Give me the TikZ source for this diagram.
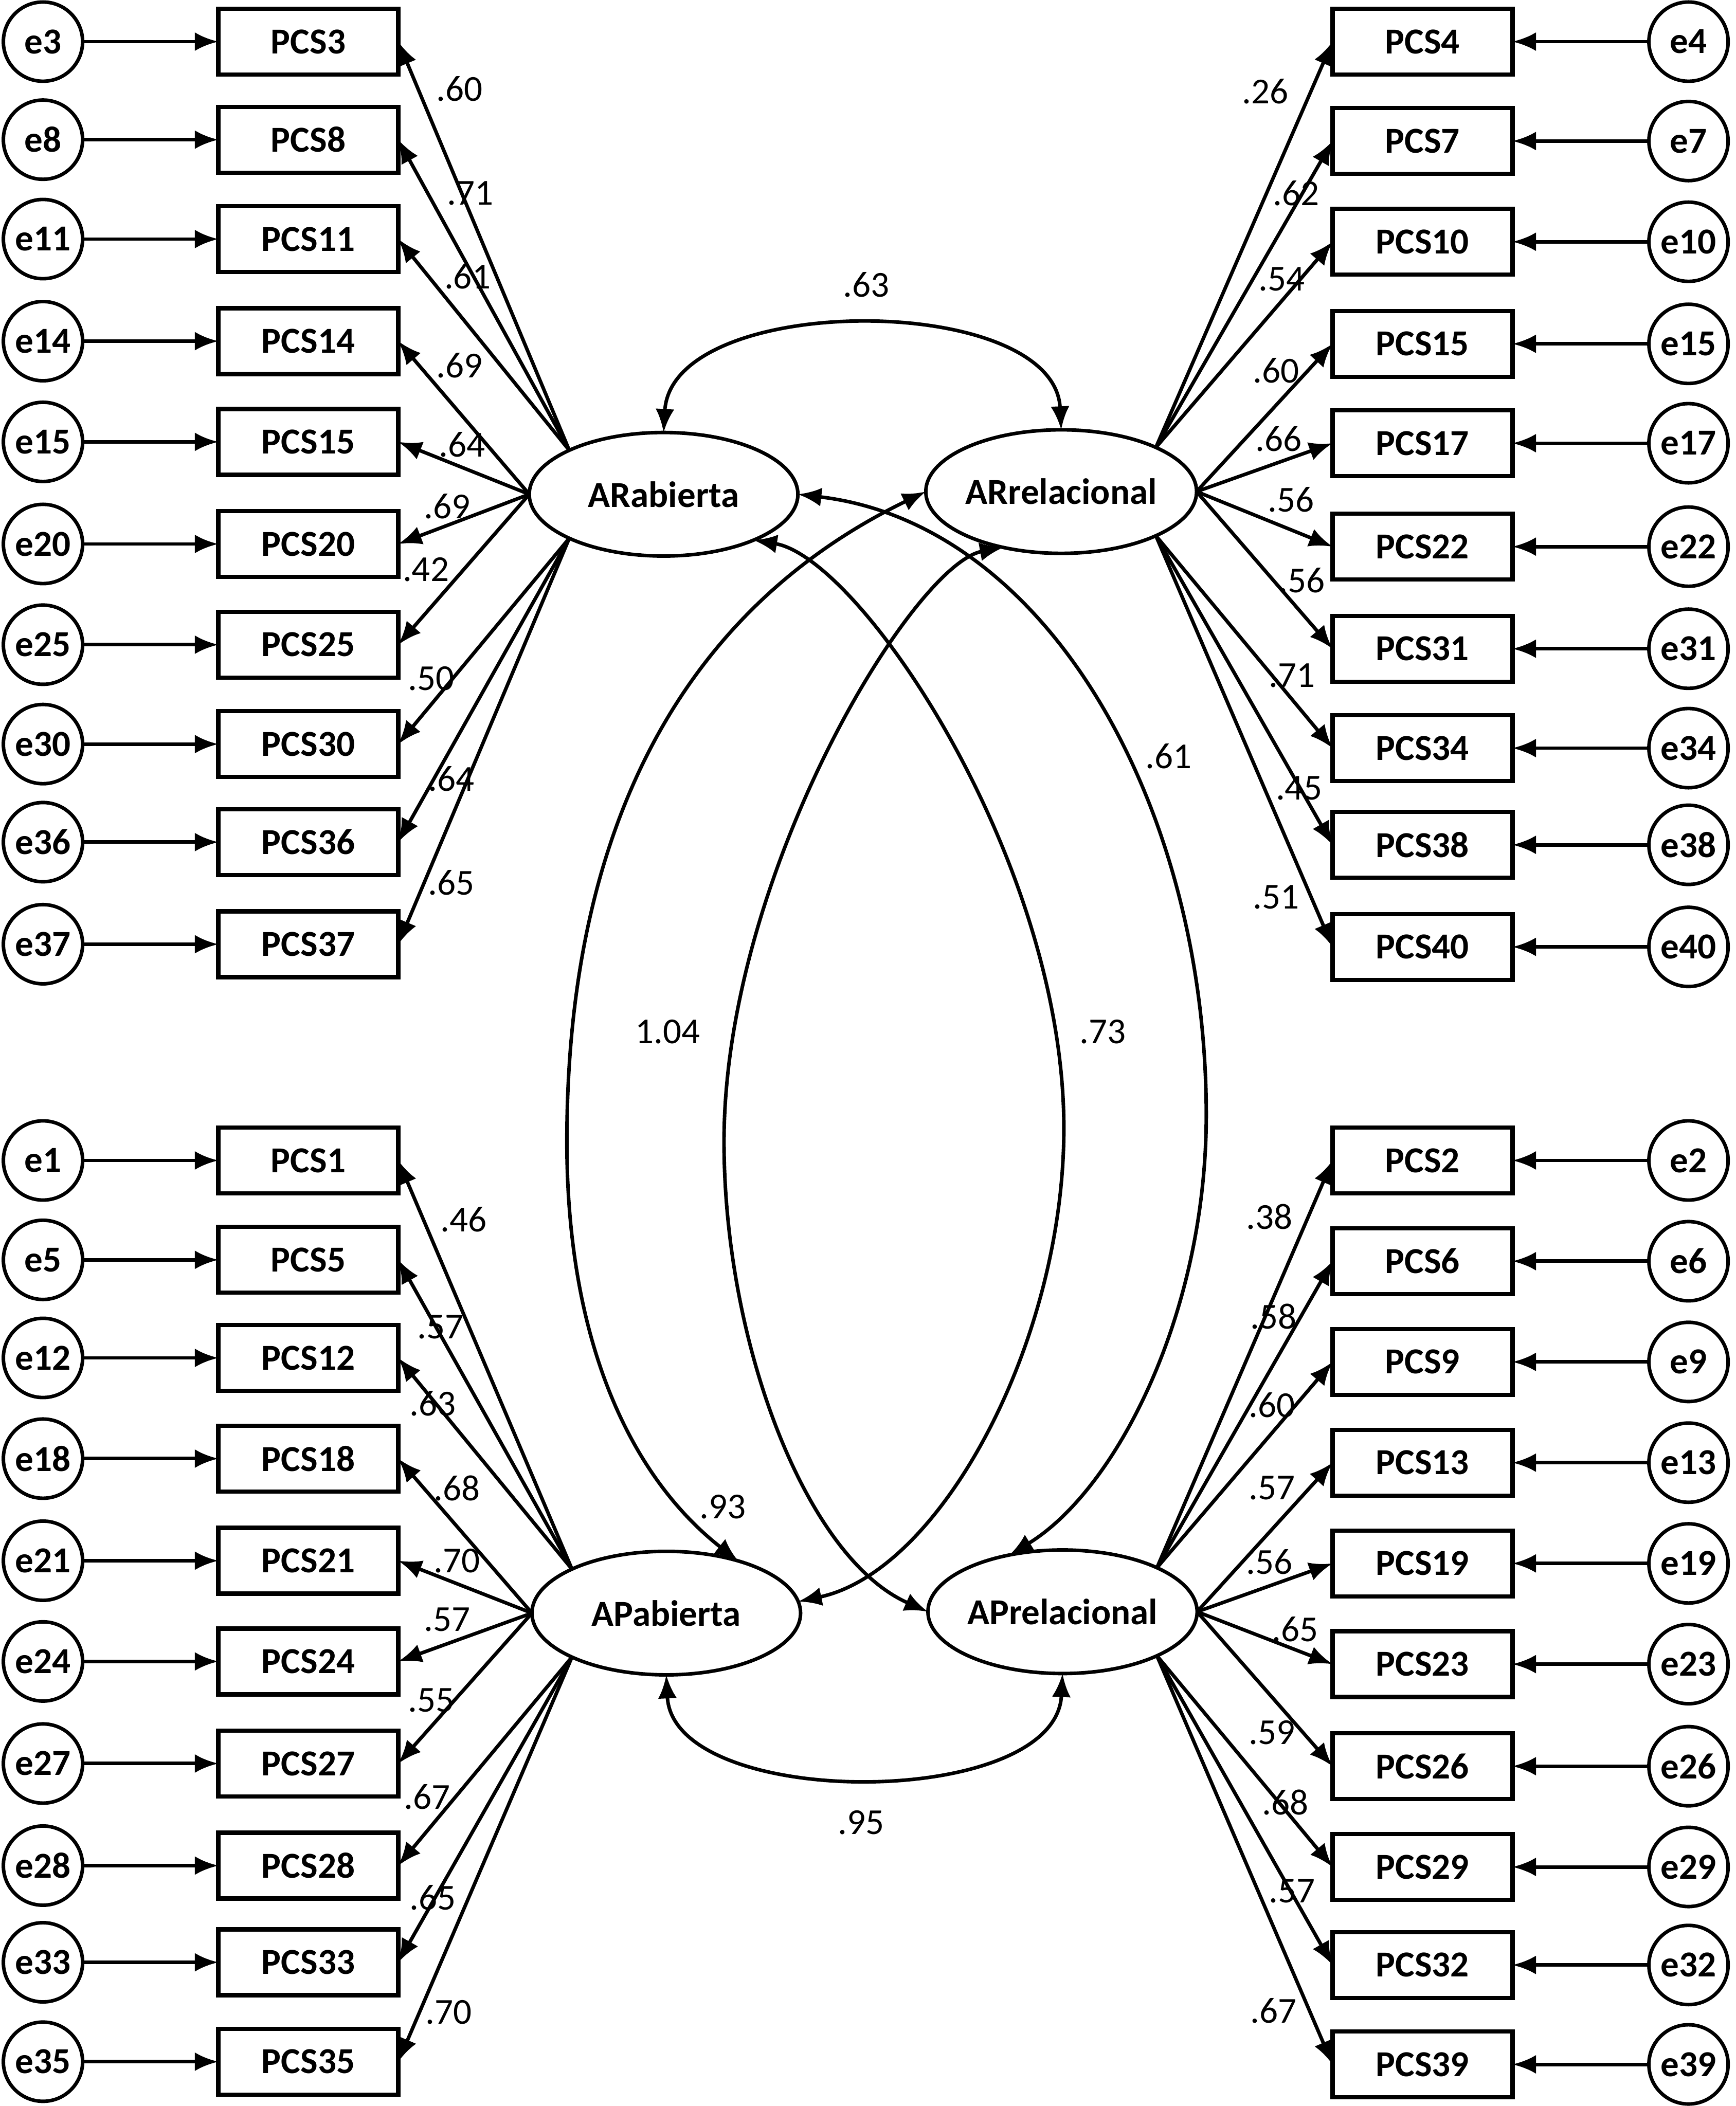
\documentclass[tikz,border=0pt]{standalone}
\usepackage{fontspec}
\setmainfont{Carlito}
\usetikzlibrary{shapes.geometric,arrows.meta}
\begin{document}
\begin{tikzpicture}[x=0.02cm,y=-0.02cm,
  txt/.style={font=\fontsize{15.5}{18}\selectfont},
  btxt/.style={font=\fontsize{15.5}{18}\selectfont\bfseries},
  obs/.style={draw,line width=1.8pt,minimum width=2.68cm,minimum height=0.98cm,inner sep=0pt,outer sep=0pt,btxt},
  err/.style={draw,circle,line width=1.5pt,minimum size=1.18cm,inner sep=0pt,outer sep=0pt,btxt},
  lat/.style={draw,ellipse,line width=1.5pt,minimum width=4cm,minimum height=1.84cm,inner sep=0pt,outer sep=0pt,btxt},
  lab/.style={inner sep=0pt,txt},
  tip/.tip={Latex[length=0.35cm,width=0.28cm]},
  pth/.style={line width=1.5pt,-tip},
  cov/.style={line width=1.5pt,tip-tip}
]
\useasboundingbox (0,0) rectangle (1292,1568);

% latent variables
\node[lat] (ARa) at (494,368) {ARabierta};
\node[lat] (ARr) at (790,366) {ARrelacional};
\node[lat] (APa) at (496,1201) {APabierta};
\node[lat] (APr) at (791,1200) {APrelacional};

% top-left block
\foreach \i/\n/\y/\ang in {1/3/31/155,2/8/104/155,3/11/178/155,4/14/254/180,5/15/329/180,6/20/405/180,7/25/480/180,8/30/554/205,9/36/627/205,10/37/703/205}{
  \node[obs] (TL\i) at (229.5,\y) {PCS\n};
  \node[err] (eTL\i) at (32,\y) {e\n};
  \draw[pth] (eTL\i) -- (TL\i);
  \draw[pth] (ARa.\ang) -- (TL\i.east);
}
% top-right block
\foreach \i/\n/\y/\ang in {1/4/31/25,2/7/105/25,3/10/180/25,4/15/256/0,5/17/330/0,6/22/407/0,7/31/483/0,8/34/557/-25,9/38/629/-25,10/40/705/-25}{
  \node[obs] (TR\i) at (1059,\y) {PCS\n};
  \node[err] (eTR\i) at (1257,\y) {e\n};
  \draw[pth] (eTR\i) -- (TR\i);
  \draw[pth] (ARr.\ang) -- (TR\i.west);
}
% bottom-left block
\foreach \i/\n/\y/\ang in {1/1/864/155,2/5/938/155,3/12/1011/155,4/18/1086/180,5/21/1162/180,6/24/1237/180,7/27/1313/180,8/28/1389/205,9/33/1461/205,10/35/1535/205}{
  \node[obs] (BL\i) at (229.5,\y) {PCS\n};
  \node[err] (eBL\i) at (32,\y) {e\n};
  \draw[pth] (eBL\i) -- (BL\i);
  \draw[pth] (APa.\ang) -- (BL\i.east);
}
% bottom-right block
\foreach \i/\n/\y/\ang in {1/2/864/25,2/6/939/25,3/9/1014/25,4/13/1089/0,5/19/1164/0,6/23/1239/0,7/26/1315/0,8/29/1390/-25,9/32/1463/-25,10/39/1537/-25}{
  \node[obs] (BR\i) at (1059,\y) {PCS\n};
  \node[err] (eBR\i) at (1257,\y) {e\n};
  \draw[pth] (eBR\i) -- (BR\i);
  \draw[pth] (APr.\ang) -- (BR\i.west);
}

% covariances
\draw[cov] (ARa.north) .. controls (500,217) and (785,217) .. (ARr.north);
\draw[cov] (APa.south) .. controls (501,1348) and (786,1348) .. (APr.south);
\draw[cov] (ARr.west) .. controls (520,448) and (422,600) .. (422,850) .. controls (422,1000) and (470,1100) .. (APa.36);
\draw[cov] (ARa.east) .. controls (780,390) and (898,600) .. (898,830) .. controls (898,980) and (830,1110) .. (APr.133);
\draw[cov] (ARr.-136) .. controls (680,420) and (539,650) .. (539,850) .. controls (539,1000) and (600,1160) .. (APr.west);
\draw[cov] (ARa.-27) .. controls (640,415) and (792,640) .. (792,840) .. controls (792,1000) and (700,1170) .. (APa.5);

% loading labels
\foreach \x/\y/\t in {342/66/.60,350/144/.71,348/206/.61,342/272/.69,344/331/.64,333/377/.69,317/424/.42,321/505/.50,336/580/.64,336/657/.65,
  942/68/.26,965/144/.62,954/208/.54,950/276/.60,952/327/.66,961/372/.56,969/432/.56,962/503/.71,967/587/.45,950/668/.51,
  345/908/.46,328/988/.57,322/1045/.63,340/1108/.68,340/1162/.70,333/1206/.57,321/1266/.55,318/1338/.67,322/1413/.65,334/1498/.70,
  945/906/.38,948/980/.58,947/1046/.60,947/1108/.57,945/1163/.56,964/1213/.65,947/1290/.59,957/1342/.68,962/1408/.57,948/1497/.67}{
  \node[lab] at (\x,\y) {\t};
}
% covariance labels
\node[lab] (c1) at (645,212) {.63};
\node[lab] (c2) at (641,1357) {.95};
\node[lab] (c3) at (497,768) {1.04};
\node[lab] (c4) at (821,768) {.73};
\node[lab] (c5) at (870,563) {.61};
\node[lab] (c6) at (538,1122) {.93};
\end{tikzpicture}
\end{document}
